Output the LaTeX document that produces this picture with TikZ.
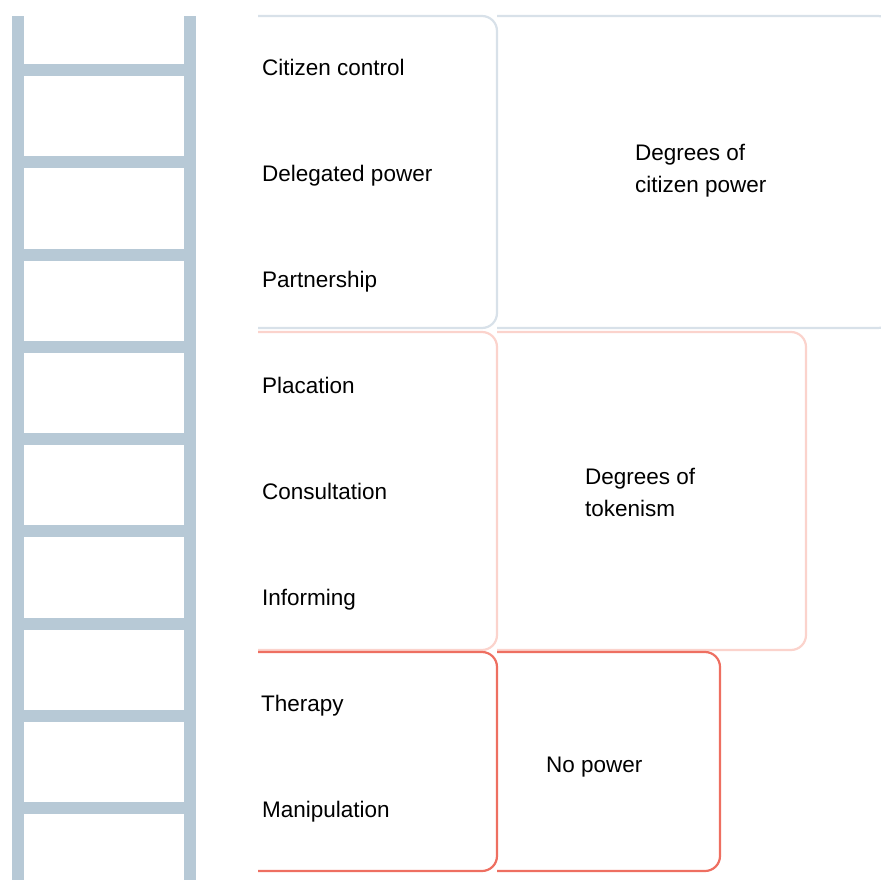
\documentclass[tikz,border=0pt]{standalone}
\usepackage{fontspec}
\setmainfont{Liberation Sans}
\usetikzlibrary{calc}
\usetikzlibrary{positioning}
\definecolor{laddergrey}{HTML}{B7C9D6}
\definecolor{powerblue}{HTML}{D8E1E9}
\definecolor{tokenpink}{HTML}{FBD3CC}
\definecolor{nocoral}{HTML}{EE6F61}
\tikzset{
	rail/.style={fill=laddergrey, draw=none},
	rung/.style={fill=laddergrey, draw=none},
	rungtext/.style={anchor=west, inner sep=0pt, text height=15pt, text depth=5pt,
		font=\fontsize{22.5}{32}\selectfont},
	degree/.style={anchor=west, align=left, inner sep=0pt,
		font=\fontsize{22.5}{32}\selectfont},
	group/.style={line width=2.2pt, rounded corners=15pt}
}

\begin{document}
\begin{tikzpicture}[x=1pt, y=-1pt]
\useasboundingbox (0,0) rectangle (881,880);

% ladder
\fill[rail] (12,16) rectangle (24,880);
\fill[rail] (184,16) rectangle (196,880);
\foreach \k in {0,...,8}
	\fill[rung] (24,64+92.25*\k) rectangle (184,76+92.25*\k);

% groups
\draw[group, powerblue] (258,16) -- (497,16) -- (497,328) -- (258,328);
\draw[group, powerblue] (497,16) -- (893,16) -- (893,328) -- (497,328);

\draw[group, tokenpink] (258,332) -- (497,332) -- (497,650) -- (258,650);
\draw[group, tokenpink] (497,332) -- (806,332) -- (806,650) -- (497,650);

\draw[group, nocoral] (258,652) -- (497,652) -- (497,871) -- (258,871);
\draw[group, nocoral] (497,652) -- (720,652) -- (720,871) -- (497,871);

% rungs of participation
\node[rungtext] (control) at (262,71) {Citizen control};
\node[rungtext] (delegated) at (262,177) {Delegated power};
\node[rungtext] (partnership) at (262,282) {Partnership};
\node[rungtext] (placation) at (262,388) {Placation};
\node[rungtext] (consultation) at (262,494) {Consultation};
\node[rungtext] (informing) at (262,600) {Informing};
\node[rungtext] (therapy) at (261,706) {Therapy};
\node[rungtext] (manipulation) at (262,812) {Manipulation};

% degrees
\node[degree] (citizenpower) at (635,171) {Degrees of\\citizen power};
\node[degree] (tokenism) at (585,492) {Degrees of\\tokenism};
\node[degree] (nopower) at (546,767) {No power};

\end{tikzpicture}
\end{document}
